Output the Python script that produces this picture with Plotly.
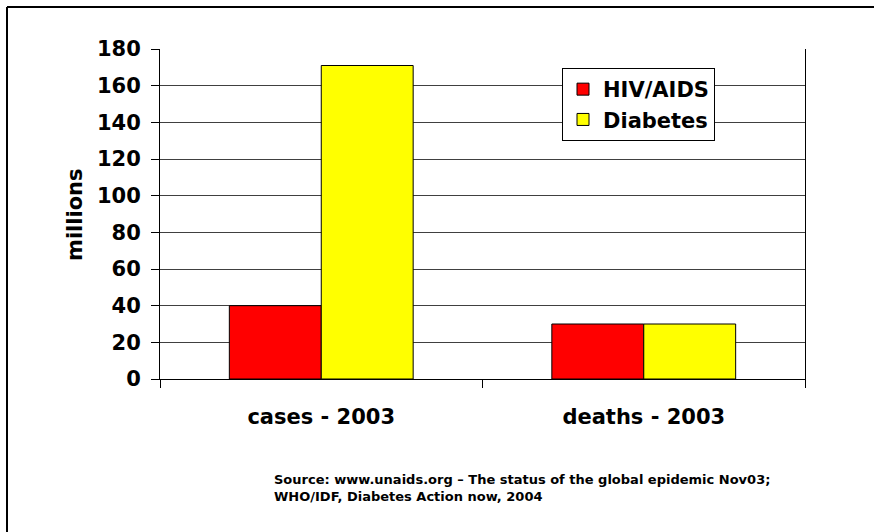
import plotly.graph_objects as go

categories = ["cases - 2003", "deaths - 2003"]
hiv_values = [40, 30]
diabetes_values = [171, 30]
y_ticks = [0, 20, 40, 60, 80, 100, 120, 140, 160, 180]

FONT = "Tahoma, DejaVu Sans, Verdana, sans-serif"

W, H = 874, 532
L, R, T, B = 160, 69, 49, 153
pw, ph = W - L - R, H - T - B

def px_x(px):
    return (px - L) / pw

def px_y(py):
    return (H - B - py) / ph

fig = go.Figure()
fig.add_trace(go.Bar(x=categories, y=hiv_values, name="HIV/AIDS",
                     marker=dict(color="#FF0000", line=dict(color="#000000", width=1))))
fig.add_trace(go.Bar(x=categories, y=diabetes_values, name="Diabetes",
                     marker=dict(color="#FFFF00", line=dict(color="#000000", width=1))))

fig.update_layout(
    width=W, height=H,
    margin=dict(l=L, r=R, t=T, b=B, pad=0),
    paper_bgcolor="white", plot_bgcolor="white",
    barmode="group", bargap=0.43, bargroupgap=0,
    font=dict(family=FONT, color="black"),
    showlegend=True,
    legend=dict(x=px_x(562), y=px_y(68), xanchor="left", yanchor="top",
                bgcolor="white", bordercolor="black", borderwidth=1,
                font=dict(family=FONT, size=21, color="black", weight="bold"),
                tracegroupgap=0),
)

fig.update_xaxes(
    type="category", showline=True, linecolor="black", linewidth=1, mirror=False,
    ticks="outside", ticklen=8, tickcolor="black", tickson="boundaries",
    tickfont=dict(family=FONT, size=21, color="black", weight="bold"),
    ticklabelstandoff=19, showgrid=False,
)
fig.update_yaxes(
    range=[0, 180], tickvals=y_ticks, showline=True, linecolor="black", linewidth=1,
    mirror=True, ticks="outside", ticklen=8, tickcolor="black",
    showgrid=True, gridcolor="#404040", gridwidth=1, zeroline=False,
    tickfont=dict(family=FONT, size=21, color="black", weight="bold"),
    ticklabelstandoff=6,
)

# y axis title as annotation
fig.add_annotation(text="<b>millions</b>", textangle=-90, xref="paper", yref="paper",
                   x=px_x(75), y=px_y(214), xanchor="center", yanchor="middle",
                   showarrow=False, font=dict(family=FONT, size=21, color="black"))

# source note
fig.add_annotation(text="<b>Source: www.unaids.org – The status of the global epidemic Nov03;<br>WHO/IDF, Diabetes Action now, 2004</b>",
                   xref="paper", yref="paper", x=px_x(272), y=px_y(470),
                   xanchor="left", yanchor="top", align="left", showarrow=False,
                   font=dict(family=FONT, size=13, color="black"))

# outer frame (top and left edges)
fig.add_shape(type="line", xref="paper", yref="paper",
              x0=px_x(7), x1=px_x(874), y0=px_y(7), y1=px_y(7),
              line=dict(color="black", width=2))
fig.add_shape(type="line", xref="paper", yref="paper",
              x0=px_x(7), x1=px_x(7), y0=px_y(7), y1=px_y(532),
              line=dict(color="black", width=2))

fig.write_html("out.html")
